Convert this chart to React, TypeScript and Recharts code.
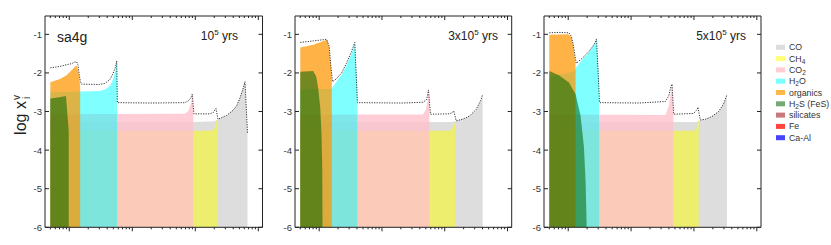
import React from 'react';
import { ComposedChart, Area, Line, XAxis, YAxis } from 'recharts';

type Pair = [number, number];

// ---------- axis ticks ----------
const X_DOMAIN: [number, number] = [0.0412, 116.6];
const Y_DOMAIN: [number, number] = [-6, -0.525];
const majorXTicks = [0.1, 1, 10, 100];
const minorXTicks = [0.05, 0.06, 0.07, 0.08, 0.09, 0.2, 0.3, 0.4, 0.5, 0.6, 0.7, 0.8, 0.9, 2, 3, 4, 5, 6, 7, 8, 9, 20, 30, 40, 50, 60, 70, 80, 90];
const yTicks = [-6, -5, -4, -3, -2, -1];
const yTickLabels = ['-6', '-5', '-4', '-3', '-2', '-1'];

// ---------- panel 1 : 1e5 yrs ----------
const p1CO: Pair[] = [[0.05, -3.27], [9.5, -3.27], [17, -3.26], [20.2, -3.25], [22.9, -3.21], [31.5, -3.1], [39.6, -2.97], [45.4, -2.85], [51.2, -2.65], [56.1, -2.45], [61.5, -2.23], [67.4, -3.55]];
const p1CH4: Pair[] = [[0.05, -3.5], [17, -3.5], [19.5, -3.47], [20.8, -3.4], [21.6, -3.25], [22.4, -3.22]];
const p1CO2: Pair[] = [[0.05, -3.07], [6.86, -3.06], [7.8, -2.98], [8.5, -2.8], [8.96, -2.57], [9.3, -2.9]];
const p1H2O: Pair[] = [[0.05, -2.5], [0.15, -2.48], [0.3, -2.47], [0.37, -2.43], [0.443, -2.33], [0.494, -2.17], [0.541, -1.93], [0.566, -1.72], [0.575, -1.9]];
const p1Org: Pair[] = [[0.05, -2.24], [0.0712, -2.16], [0.0909, -2.06], [0.109, -1.93], [0.128, -1.81], [0.134, -1.84], [0.141, -2.0], [0.146, -2.2], [0.149, -2.35]];
const p1H2S: Pair[] = [[0.05, -2.66], [0.07, -2.63], [0.0886, -2.6], [0.098, -3.5]];
const p1Total: Pair[] = [[0.05, -1.87], [0.0712, -1.83], [0.095, -1.78], [0.109, -1.76], [0.122, -1.72], [0.131, -1.71], [0.138, -1.8], [0.144, -2.05], [0.15, -2.22], [0.156, -2.29], [0.3, -2.3], [0.37, -2.27], [0.443, -2.17], [0.494, -2.02], [0.541, -1.85], [0.566, -1.69], [0.58, -2.77], [1.9, -2.78], [6.86, -2.77], [7.8, -2.72], [8.5, -2.65], [8.96, -2.55], [9.5, -3.06], [17, -3.06], [19.5, -3.02], [20.5, -2.96], [21.3, -2.92], [22.9, -3.2], [31.5, -3.1], [39.6, -2.97], [45.4, -2.85], [51.2, -2.65], [56.1, -2.45], [61.5, -2.23], [67.4, -3.55]];

// ---------- panel 2 : 3e5 yrs ----------
const p2CO: Pair[] = [[0.05, -3.27], [13, -3.27], [14.6, -3.26], [15.2, -3.24], [19.3, -3.2], [24.7, -3.12], [31.5, -2.96], [37.8, -2.72], [40.1, -2.56]];
const p2CH4: Pair[] = [[0.05, -3.5], [12, -3.5], [13, -3.45], [13.7, -3.37], [14.2, -3.3], [14.6, -3.3]];
const p2CO2: Pair[] = [[0.05, -3.08], [4.5, -3.08], [5.0, -2.95], [5.3, -2.75], [5.51, -2.46], [5.72, -2.9]];
const p2H2O: Pair[] = [[0.05, -2.42], [0.159, -2.41], [0.163, -2.38], [0.189, -2.22], [0.227, -2.05], [0.272, -1.8], [0.327, -1.5], [0.369, -1.24], [0.405, -2.4]];
const p2Org: Pair[] = [[0.05, -1.34], [0.0803, -1.27], [0.123, -1.16], [0.134, -1.14], [0.144, -1.32], [0.153, -1.77], [0.159, -2.15]];
const p2H2S: Pair[] = [[0.05, -1.97], [0.0803, -1.95], [0.09, -2.1], [0.0964, -2.4], [0.104, -2.9], [0.109, -3.6], [0.112, -4.5], [0.113, -5.9]];
const p2Total: Pair[] = [[0.05, -1.21], [0.0803, -1.17], [0.131, -1.13], [0.144, -1.3], [0.153, -1.8], [0.163, -2.23], [0.189, -2.15], [0.227, -2.0], [0.272, -1.75], [0.327, -1.45], [0.369, -1.21], [0.407, -2.77], [2.15, -2.78], [4.48, -2.76], [5.07, -2.7], [5.3, -2.6], [5.51, -2.44], [5.93, -3.07], [11.9, -3.06], [13.4, -3.02], [13.9, -2.98], [15.2, -3.24], [19.3, -3.2], [24.7, -3.12], [31.5, -2.95], [37.8, -2.7], [40.1, -2.55]];

// ---------- panel 3 : 5e5 yrs ----------
const p3CO: Pair[] = [[0.05, -3.27], [11, -3.27], [11.9, -3.25], [12.6, -3.22], [15.2, -3.2], [19.3, -3.13], [24.7, -3.0], [29.6, -2.8], [33.4, -2.57]];
const p3CH4: Pair[] = [[0.05, -3.5], [10, -3.5], [10.8, -3.45], [11.3, -3.33], [11.6, -3.22], [11.9, -3.25]];
const p3CO2: Pair[] = [[0.05, -3.08], [3.5, -3.09], [3.97, -2.87], [4.31, -2.5], [4.48, -2.3], [4.7, -2.9]];
const p3H2O: Pair[] = [[0.05, -2.1], [0.1, -2.0], [0.125, -1.95], [0.131, -1.88], [0.167, -1.65], [0.213, -1.47], [0.256, -1.28], [0.282, -1.13], [0.31, -2.2]];
const p3Org: Pair[] = [[0.05, -1.01], [0.1, -1.0], [0.112, -1.07], [0.12, -1.28], [0.127, -1.58], [0.131, -1.8]];
const p3H2S: Pair[] = [[0.05, -1.95], [0.0712, -2.06], [0.1026, -2.25], [0.131, -2.55], [0.157, -3.1], [0.1775, -3.9], [0.189, -4.8], [0.196, -5.9]];
const p3Total: Pair[] = [[0.05, -0.96], [0.0712, -0.95], [0.1026, -0.96], [0.112, -1.05], [0.12, -1.25], [0.128, -1.55], [0.134, -1.75], [0.167, -1.62], [0.213, -1.45], [0.256, -1.27], [0.282, -1.12], [0.315, -2.77], [1.33, -2.78], [3.52, -2.74], [3.97, -2.6], [4.31, -2.35], [4.48, -2.29], [4.76, -3.07], [9.89, -3.05], [11.2, -2.95], [11.6, -2.89], [12.6, -3.22], [15.2, -3.2], [19.3, -3.13], [24.7, -3.0], [29.6, -2.8], [33.4, -2.57]];

// ---------- species styling (draw order) ----------
const speciesKeys = ['CO', 'CH4', 'CO2', 'H2O', 'organics', 'H2S'];
const speciesFill = ['#dddddd', '#ffff00', '#ffc0cb', '#00ffff', '#ff9600', '#006400'];
const speciesOpacity = [1, 0.5, 0.8, 0.5, 0.72, 0.55];

// ---------- legend ----------
const legendLabels: Array<[string, string, string]> = [
  ['CO', '', ''], ['CH', '4', ''], ['CO', '2', ''], ['H', '2', 'O'], ['organics', '', ''],
  ['H', '2', 'S (FeS)'], ['silicates', '', ''], ['Fe', '', ''], ['Ca-Al', '', ''],
];
const legendColors = ['#dddddd', '#ffff7a', '#ffcdd3', '#7affff', '#ffb848', '#73aa73', '#c87878', '#ff4444', '#4444ff'];

const AXIS = '#222';
const TXT = '#333';
const FONT = '"Liberation Sans", Arial, sans-serif';

const toPts = (a: Pair[]) => a.map(([x, y]) => ({ x, y }));
const isMajor = (v: number) => majorXTicks.some((m) => Math.abs(m - v) / m < 1e-6);

const BottomTick = (props: any) => {
  const { x, y, payload } = props;
  const len = isMajor(payload.value) ? 4 : 2;
  return <line x1={x} x2={x} y1={y} y2={y + len} stroke={AXIS} strokeWidth={1} />;
};
const TopTick = (props: any) => {
  const { x, y, payload } = props;
  const len = isMajor(payload.value) ? 4 : 2;
  return <line x1={x} x2={x} y1={y} y2={y + len} stroke={AXIS} strokeWidth={1} />;
};
const LeftTick = (props: any) => {
  const { x, y, payload } = props;
  const i = yTicks.indexOf(payload.value);
  return (
    <g>
      <line x1={x + 3} x2={x + 7} y1={y} y2={y} stroke={AXIS} strokeWidth={1} />
      <text x={x} y={y} textAnchor="end" dominantBaseline="central" fontSize={9.5} fill={TXT} fontFamily={FONT}>
        {i >= 0 ? yTickLabels[i] : payload.value}
      </text>
    </g>
  );
};
const RightTick = (props: any) => {
  const { x, y } = props;
  return <line x1={x} x2={x - 4} y1={y} y2={y} stroke={AXIS} strokeWidth={1} />;
};

type PanelProps = {
  left: number;
  width: number;
  yAxisWidth: number;
  rightWidth: number;
  series: Pair[][];
  total: Pair[];
  children?: React.ReactNode;
};

const Panel = ({ left, width, yAxisWidth, rightWidth, series, total, children }: PanelProps) => (
  <div style={{ position: 'absolute', left, top: 0, width, height: 245 }}>
    <ComposedChart width={width} height={245} margin={{ top: 0, right: 0, bottom: 0, left: 0 }}>
      <XAxis dataKey="x" type="number" scale="log" domain={X_DOMAIN} allowDataOverflow ticks={[...minorXTicks, ...majorXTicks]} interval={0}
        height={17.7} tickSize={0} tickMargin={0} tick={BottomTick} tickLine={false} axisLine={{ stroke: AXIS }} />
      <XAxis xAxisId="top" orientation="top" dataKey="x" type="number" scale="log" domain={X_DOMAIN} allowDataOverflow ticks={[...minorXTicks, ...majorXTicks]} interval={0}
        height={16} tickSize={0} tickMargin={0} tick={TopTick} tickLine={false} axisLine={{ stroke: AXIS }} />
      <YAxis type="number" domain={Y_DOMAIN} allowDataOverflow ticks={yTicks} interval={0} width={yAxisWidth}
        tickSize={0} tickMargin={3} tick={LeftTick} tickLine={false} axisLine={{ stroke: AXIS }} />
      <YAxis yAxisId="right" orientation="right" type="number" domain={Y_DOMAIN} allowDataOverflow ticks={yTicks} interval={0} width={rightWidth}
        tickSize={0} tickMargin={0} tick={RightTick} tickLine={false} axisLine={{ stroke: AXIS }} />
      {series.map((s, i) => (
        <Area key={speciesKeys[i]} name={speciesKeys[i]} data={toPts(s)} dataKey="y" type="linear" baseValue={-6}
          fill={speciesFill[i]} fillOpacity={speciesOpacity[i]} stroke="none" dot={false} activeDot={false} isAnimationActive={false} />
      ))}
      <Line data={toPts(total)} dataKey="y" type="linear" stroke="#333" strokeWidth={1} strokeDasharray="1.2 1.3" dot={false} activeDot={false} isAnimationActive={false} />
      {children}
    </ComposedChart>
  </div>
);

const Yrs = ({ x, pre }: { x: number; pre: string }) => (
  <text x={x} y={39.5} textAnchor="end" fontSize={12} fill="#222" fontFamily={FONT}>
    {pre}10<tspan dy={-5} fontSize={8}>5</tspan><tspan dy={5}> yrs</tspan>
  </text>
);

export default function App() {
  return (
    <div style={{ position: 'absolute', left: 0, top: 0, width: 831, height: 245, background: '#fff', fontFamily: FONT }}>
      <Panel left={0} width={272} yAxisWidth={45} rightWidth={9.5}
        series={[p1CO, p1CH4, p1CO2, p1H2O, p1Org, p1H2S]} total={p1Total}>
        <text x={57} y={41.5} fontSize={14} fill="#222" fontFamily={FONT}>sa4g</text>
        <Yrs x={238} pre="" />
        <g transform="translate(26,118) rotate(-90)" fontFamily={FONT} fill="#222">
          <text x={0} y={0} textAnchor="middle" fontSize={16}>log x</text>
          <text x={18} y={-6} textAnchor="start" fontSize={10}>v</text>
          <text x={19} y={4} textAnchor="start" fontSize={10}>i</text>
        </g>
      </Panel>
      <Panel left={272} width={250} yAxisWidth={23} rightWidth={10.3}
        series={[p2CO, p2CH4, p2CO2, p2H2O, p2Org, p2H2S]} total={p2Total}>
        <Yrs x={226} pre="3x" />
      </Panel>
      <Panel left={522} width={309} yAxisWidth={22} rightWidth={70}
        series={[p3CO, p3CH4, p3CO2, p3H2O, p3Org, p3H2S]} total={p3Total}>
        <Yrs x={224} pre="5x" />
        <g fontFamily={FONT} fontSize={8.8} fill={TXT}>
          {legendLabels.map((l, i) => {
            const cy = 47.3 + i * 11.3;
            return (
              <g key={i}>
                <rect x={254} y={cy - 2.5} width={9} height={5} fill={legendColors[i]} />
                <text x={267} y={cy} dominantBaseline="central">
                  {l[0]}
                  {l[1] ? <tspan dy={2} fontSize={6.5}>{l[1]}</tspan> : null}
                  {l[1] ? <tspan dy={-2}>{l[2]}</tspan> : null}
                </text>
              </g>
            );
          })}
        </g>
      </Panel>
    </div>
  );
}
